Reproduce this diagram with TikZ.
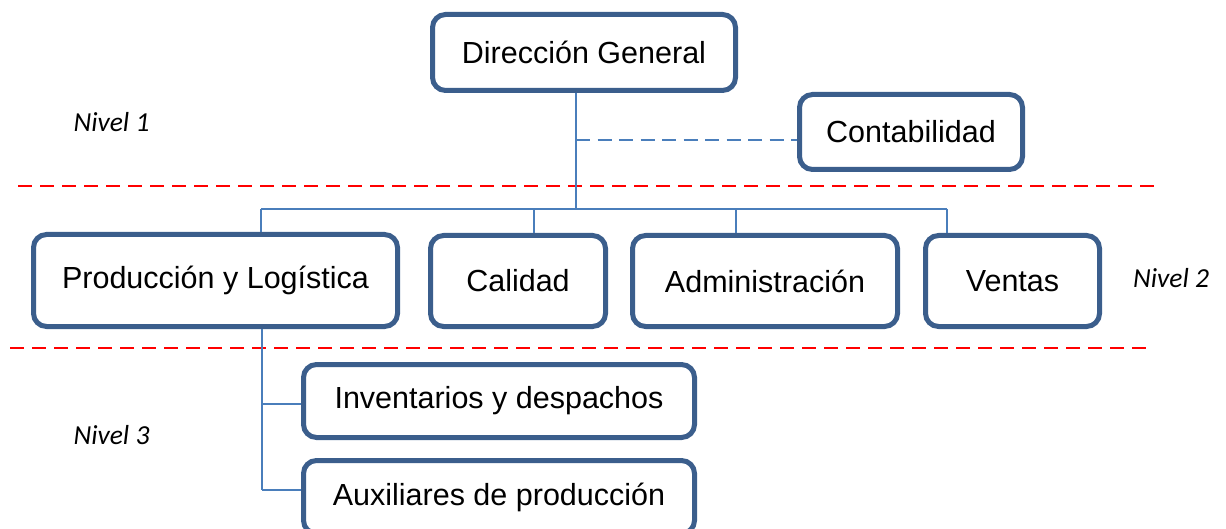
\documentclass[tikz,border=0pt]{standalone}
\usepackage{fontspec}
\setmainfont{Liberation Sans}
\newfontfamily\calib{Carlito}
\definecolor{boxblue}{HTML}{3B5E8C}
\definecolor{linkblue}{HTML}{4A7EBB}
\definecolor{lvlred}{HTML}{FF0000}
\begin{document}
\begin{tikzpicture}[x=1pt,y=-1pt,
  orgbox/.style={draw=boxblue, line width=5pt, rounded corners=13pt, fill=white,
    inner sep=0pt, font=\fontsize{30.5}{36}\selectfont, text=black},
  link/.style={draw=linkblue, line width=1.5pt},
  dlink/.style={link, dash pattern=on 14pt off 7.5pt},
  levelline/.style={draw=lvlred, line width=2.2pt, dash pattern=on 14pt off 8pt},
  leveltext/.style={font=\calib\itshape\fontsize{27.5}{32}\selectfont, inner sep=0pt}]
\useasboundingbox (0,0) rectangle (1226,529);
\begin{scope}
\clip (0,0) rectangle (1226,529);
% level separators
\coordinate (r1a) at (18,186); \coordinate (r1b) at (1156,186);
\coordinate (r2a) at (10,348); \coordinate (r2b) at (1147,348);
\draw[levelline] (r1a) -- (r1b);
\draw[levelline] (r2a) -- (r2b);
% boxes
\node[orgbox, minimum width=303pt, minimum height=76pt] (dg) at (584,52.5) {Dirección General};
\node[orgbox, minimum width=223pt, minimum height=75pt] (cont) at (911,132) {Contabilidad};
\node[orgbox, minimum width=364pt, minimum height=92pt] (prod) at (215.5,280.5) {Producción y Logística};
\node[orgbox, minimum width=175pt, minimum height=91pt] (cal) at (518,281) {Calidad};
\node[orgbox, minimum width=265pt, minimum height=91pt] (adm) at (765,281) {Administración};
\node[orgbox, minimum width=174pt, minimum height=91pt] (ven) at (1012.5,281) {Ventas};
\node[orgbox, minimum width=391pt, minimum height=73pt] (inv) at (499,401) {Inventarios y despachos};
\node[orgbox, minimum width=391pt, minimum height=73pt] (aux) at (499,497) {Auxiliares de producción};
% connector coordinates
\coordinate (j) at (576,209);
\coordinate (c) at (576,140);
\coordinate (b1) at (261,209);
\coordinate (b2) at (534,209);
\coordinate (b3) at (736,209);
\coordinate (b4) at (947,209);
\coordinate (p1) at (262,404);
\coordinate (p2) at (262,490);
% connectors
\draw[link] (j |- dg.south) -- (j);
\draw[dlink] (c) -- (c -| cont.west);
\draw[link] (b1) -- (b4);
\draw[link] (b1) -- (b1 |- prod.north);
\draw[link] (b2) -- (b2 |- cal.north);
\draw[link] (b3) -- (b3 |- adm.north);
\draw[link] (b4) -- (b4 |- ven.north);
\draw[link] (p1 |- prod.south) -- (p2);
\draw[link] (p1) -- (p1 -| inv.west);
\draw[link] (p2) -- (p2 -| aux.west);
% level labels
\node[leveltext] (n1) at (111.5,122) {Nivel 1};
\node[leveltext] (n2) at (1171,278) {Nivel 2};
\node[leveltext] (n3) at (111.5,435) {Nivel 3};
\end{scope}
\end{tikzpicture}
\end{document}
